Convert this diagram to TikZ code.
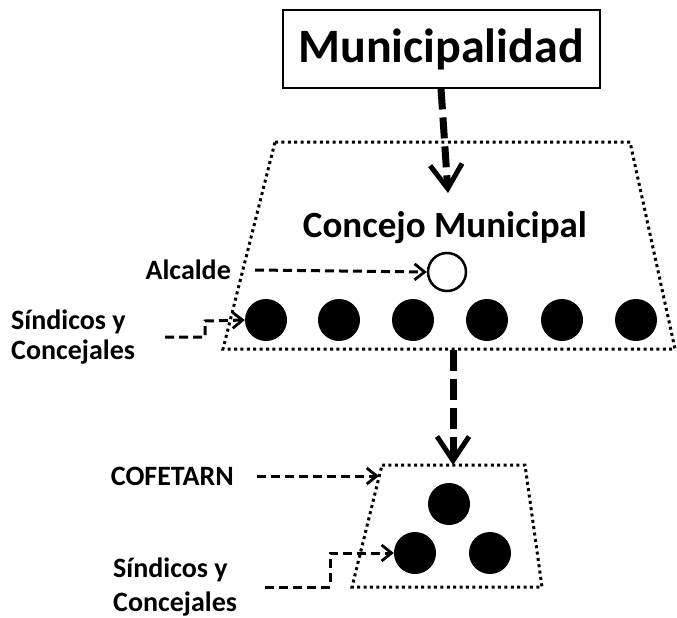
\documentclass[tikz,border=0pt]{standalone}
\usepackage{fontspec}
\setmainfont{Carlito}
\usetikzlibrary{arrows.meta}
\begin{document}
\begin{tikzpicture}[x=1pt,y=-1pt,
  dotline/.style={line width=3pt, dash pattern=on 3pt off 3.4pt},
  bigarrow/.style={line width=7pt, dash pattern=on 21pt off 8pt, -{Straight Barb[length=24pt,width=32pt,line width=5pt]}},
  thinarrow/.style={line width=3pt, dash pattern=on 9pt off 5pt, -{Straight Barb[length=10pt,width=16pt,line width=2.8pt]}},
  dot/.style={circle, fill=black, minimum size=42pt, inner sep=0pt},
  lbl/.style={font=\fontsize{28}{30}\selectfont\bfseries, inner sep=0pt},
]
\useasboundingbox (0,0) rectangle (677,618);
% top box
\node[draw, line width=2pt, minimum width=317pt, minimum height=77pt, inner sep=0pt,
  font=\fontsize{48}{48}\selectfont\bfseries] (muni) at (441,49) {Municipalidad};
% big trapezoid
\coordinate (tl) at (275,142);
\coordinate (tr) at (630,142);
\coordinate (br) at (675,349);
\coordinate (bl) at (223,349);
\draw[dotline] (tl) -- (tr) -- (br) -- (bl) -- cycle;
\node[font=\fontsize{37}{37}\selectfont\bfseries, inner sep=0pt] (cm) at (445,228) {Concejo Municipal};
\node[circle, draw, line width=2.5pt, minimum size=38pt, inner sep=0pt] (alc) at (447,272) {};
\foreach \i/\x in {1/266,2/339,3/413,4/487,5/562,6/636}
  \node[dot] (c\i) at (\x,320) {};
\coordinate (t1) at (448,193);
\draw[bigarrow] (muni.south) -- (t1);
% labels
\node[lbl, anchor=east] (alcl) at (231,270) {Alcalde};
\coordinate (a0) at (255,270);
\draw[thinarrow] (a0) -- (alc.west);
\node[lbl, anchor=west, align=left] (sc1) at (11,337) {Síndicos y\\Concejales};
\coordinate (s1a) at (165,337);
\draw[thinarrow] (s1a) -- (205,337) -- (205,321) -- (c1.west);
% small trapezoid
\coordinate (stl) at (382,465);
\coordinate (str) at (525,465);
\coordinate (sbr) at (542,587);
\coordinate (sbl) at (352,587);
\draw[dotline] (stl) -- (str) -- (sbr) -- (sbl) -- cycle;
\coordinate (b2s) at (453,350);
\coordinate (t2) at (453,465);
\draw[bigarrow] (b2s) -- (t2);
\node[dot] (d1) at (449,504) {};
\node[dot] (d2) at (415,553) {};
\node[dot] (d3) at (490,553) {};
\node[lbl, anchor=east] (cof) at (234,476) {COFETARN};
\coordinate (cofa) at (257,476);
\coordinate (cofe) at (379,476);
\draw[thinarrow] (cofa) -- (cofe);
\node[lbl, anchor=west, align=left, font=\fontsize{28}{34}\selectfont\bfseries] (sc2) at (113,587) {Síndicos y\\Concejales};
\coordinate (s2a) at (265,587);
\draw[thinarrow] (s2a) -- (330,587) -- (330,553) -- (d2.west);
\end{tikzpicture}
\end{document}
